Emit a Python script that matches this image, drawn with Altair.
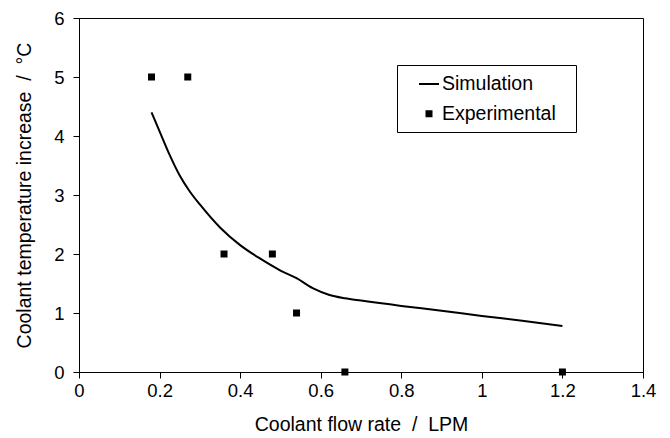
import altair as alt
import pandas as pd

# Experimental data
exp_x = [0.18, 0.27, 0.36, 0.48, 0.54, 0.66, 1.2]
exp_y = [5, 5, 2, 2, 1, 0, 0]

# Simulation curve
sim_x = [0.18, 0.2, 0.225, 0.25, 0.275, 0.3, 0.35, 0.4, 0.45, 0.5, 0.54, 0.58, 0.62, 0.66,
         0.7, 0.8, 0.9, 1.0, 1.1, 1.2]
sim_y = [4.40, 4.08, 3.68, 3.33, 3.06, 2.84, 2.45, 2.15, 1.92, 1.72, 1.59, 1.42, 1.31, 1.25,
         1.21, 1.12, 1.04, 0.95, 0.87, 0.78]

series_names = ["Simulation", "Experimental"]
x_ticks = [0, 0.2, 0.4, 0.6, 0.8, 1.0, 1.2, 1.4]
y_ticks = [0, 1, 2, 3, 4, 5, 6]

NB = "\u00a0"
x_title = "Coolant flow rate" + NB * 2 + "/" + NB * 2 + "LPM"
y_title = "Coolant temperature increase" + NB * 2 + "/" + NB * 2 + "°C"

exp_df = pd.DataFrame({"x": exp_x, "y": exp_y, "series": "Experimental"})
sim_df = pd.DataFrame({"x": sim_x, "y": sim_y, "series": "Simulation"})

FONT = "Liberation Sans"

xs = alt.Scale(domain=[0, 1.4], nice=False, zero=False)
ys = alt.Scale(domain=[0, 6], nice=False, zero=False)

common = dict(grid=False, tickSize=6, domainColor="black", tickColor="black",
              labelColor="black", labelFontSize=18.5, titleFontSize=19.5,
              titleFontWeight="normal", labelFont=FONT, titleFont=FONT,
              titleColor="black", labelFlush=False, labelExpr="format(datum.value, '~g')")

x_axis = alt.Axis(values=x_ticks, labelPadding=3, titlePadding=16, **common)
y_axis = alt.Axis(values=y_ticks, labelPadding=9, titlePadding=19, **common)

line = alt.Chart(sim_df).mark_line(color="black", strokeWidth=2, interpolate="monotone").encode(
    x=alt.X("x:Q", scale=xs, axis=x_axis, title=x_title),
    y=alt.Y("y:Q", scale=ys, axis=y_axis, title=y_title),
)

# an invisible title to the right of the entries only widens the legend frame
title_opts = dict(title="M", titleOrient="right", titleFontSize=14, titlePadding=0,
                  titleFont=FONT, titleOpacity=0)

shape_legend = alt.Legend(orient="none", legendX=318, legendY=47,
                          strokeColor="black", fillColor="white", padding=8,
                          symbolOffset=13, labelOffset=2, rowPadding=9,
                          labelFontSize=19.5, labelFont=FONT, labelColor="black",
                          symbolStrokeColor="black", symbolFillColor="black",
                          symbolStrokeWidth=2, **title_opts)
size_legend = alt.Legend(orient="none", legendX=318, legendY=47, **title_opts)

points = alt.Chart(exp_df).mark_point(filled=False, fill="black", fillOpacity=1,
                                      stroke="black", strokeWidth=2, opacity=1).encode(
    x=alt.X("x:Q", scale=xs),
    y=alt.Y("y:Q", scale=ys),
    shape=alt.Shape("series:N", scale=alt.Scale(domain=series_names, range=["stroke", "square"]),
                    legend=shape_legend),
    size=alt.Size("series:N", scale=alt.Scale(domain=series_names, range=[400, 25]),
                  legend=size_legend),
)

chart = alt.layer(line, points).properties(
    width=564, height=354,
    autosize=alt.AutoSizeParams(type="none"),
    padding={"left": 79, "top": 18, "right": 27, "bottom": 66},
    background="white",
).configure_view(stroke="black", strokeWidth=1)

chart.save("out.html", embed_options={"renderer": "svg", "actions": False})
